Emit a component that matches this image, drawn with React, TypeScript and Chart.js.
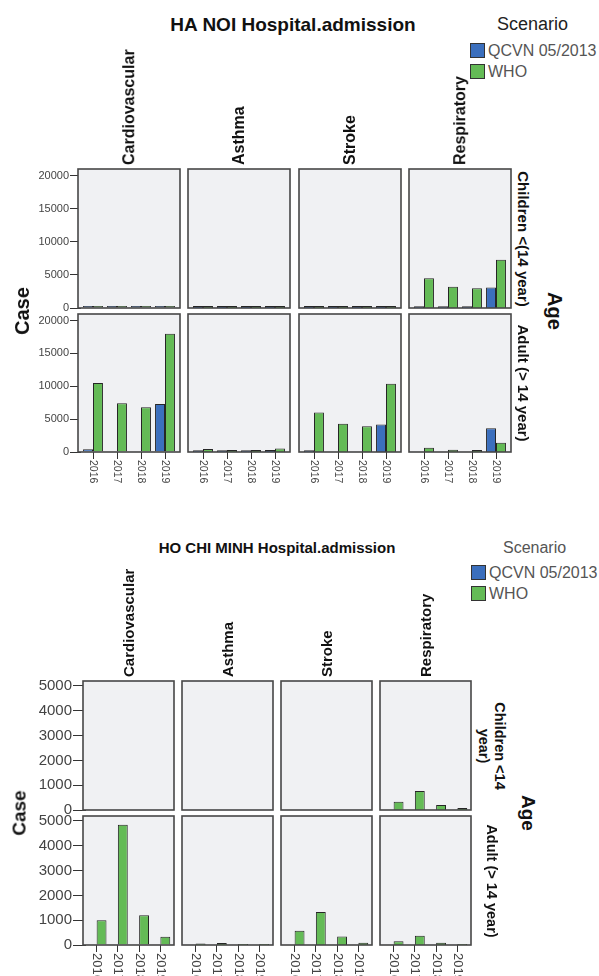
import React, { useEffect, useRef } from 'react';
import { Chart, registerables } from 'chart.js';

Chart.register(...registerables);

// ---------- data ----------
const years = ['2016', '2017', '2018', '2019'];
const diseases = ['Cardiovascular', 'Asthma', 'Stroke', 'Respiratory'];
const scenarios = ['QCVN 05/2013', 'WHO'];
const legendTitle = 'Scenario';
const hanoiTitle = 'HA NOI Hospital.admission';
const hcmTitle = 'HO CHI MINH Hospital.admission';
const hanoiAgeLabels = [['Children <(14 year)'], ['Adult (> 14 year)']];
const hcmAgeLabels = [['Children <14', 'year)'], ['Adult (> 14 year)']];
const yTitle = 'Case';
const facetTitle = 'Age';
const hanoiYTicks = [0, 5000, 10000, 15000, 20000];
const hcmYTicks = [0, 1000, 2000, 3000, 4000, 5000];
const hanoiYMax = 21000;
const hcmYMax = 5200;

// rows: Cardiovascular, Asthma, Stroke, Respiratory ; columns: 2016..2019
const hnChildrenQCVN = [
  [300, 300, 300, 300],
  [300, 300, 300, 300],
  [300, 300, 300, 300],
  [250, 250, 250, 3100],
];
const hnChildrenWHO = [
  [300, 300, 300, 300],
  [300, 300, 300, 300],
  [300, 300, 300, 300],
  [4500, 3200, 3000, 7300],
];
const hnAdultQCVN = [
  [400, 0, 0, 7300],
  [250, 250, 250, 300],
  [250, 0, 0, 4200],
  [0, 0, 0, 3600],
];
const hnAdultWHO = [
  [10500, 7400, 6800, 18000],
  [450, 300, 300, 550],
  [6000, 4300, 3900, 10400],
  [650, 350, 300, 1400],
];
const hcmChildrenQCVN = [
  [0, 0, 0, 0],
  [0, 0, 0, 0],
  [0, 0, 0, 0],
  [0, 0, 0, 0],
];
const hcmChildrenWHO = [
  [0, 0, 0, 0],
  [0, 0, 0, 0],
  [0, 0, 0, 0],
  [330, 770, 200, 80],
];
const hcmAdultQCVN = [
  [0, 0, 0, 0],
  [0, 0, 0, 0],
  [0, 0, 0, 0],
  [0, 0, 0, 0],
];
const hcmAdultWHO = [
  [1000, 4850, 1200, 330],
  [60, 80, 40, 40],
  [570, 1330, 340, 90],
  [150, 370, 90, 40],
];

// ---------- styles ----------
const FONT = '"Liberation Sans", Arial, Helvetica, sans-serif';
const BLUE = '#3b6fbd';
const GREEN = '#64bb56';
const BAR_BORDER = '#262626';
const PANEL_BG = '#f0f1f3';
const FRAME = '#474747';
const TICK_COLOR = '#444';

type Spec = {
  lefts: number[];
  w: number;
  inset: number;
  rowTops: number[];
  rowHs: number[];
  yMax: number;
  yTicks: number[];
  yFont: number;
  yTickLen: number;
  xFont: number;
  xTickLen: number;
  catPct: number;
  xAxisH: number;
  qcvn: number[][][];
  who: number[][][];
};

const hanoiSpec: Spec = {
  lefts: [78, 188, 299, 409],
  w: 102,
  inset: 3,
  rowTops: [169, 314],
  rowHs: [139, 138],
  yMax: hanoiYMax,
  yTicks: hanoiYTicks,
  yFont: 11,
  yTickLen: 11,
  xFont: 10.5,
  xTickLen: 7,
  catPct: 0.83,
  xAxisH: 40,
  qcvn: [hnChildrenQCVN, hnAdultQCVN],
  who: [hnChildrenWHO, hnAdultWHO],
};

const hcmSpec: Spec = {
  lefts: [83, 182, 281, 380],
  w: 91,
  inset: 3,
  rowTops: [681, 816],
  rowHs: [129, 129],
  yMax: hcmYMax,
  yTicks: hcmYTicks,
  yFont: 15,
  yTickLen: 13,
  xFont: 13,
  xTickLen: 7,
  catPct: 0.93,
  xAxisH: 40,
  qcvn: [hcmChildrenQCVN, hcmAdultQCVN],
  who: [hcmChildrenWHO, hcmAdultWHO],
};

const panelPlugin = {
  id: 'panelFrame',
  beforeDatasetsDraw(chart: any, _a: any, o: any) {
    const { ctx, chartArea: a } = chart;
    ctx.save();
    ctx.fillStyle = o.bg;
    ctx.fillRect(a.left - o.inset, a.top, a.right - a.left + 2 * o.inset, a.bottom - a.top);
    ctx.restore();
  },
  afterDraw(chart: any, _a: any, o: any) {
    const { ctx, chartArea: a } = chart;
    ctx.save();
    ctx.strokeStyle = o.frameColor;
    ctx.lineWidth = 1.6;
    ctx.strokeRect(a.left - o.inset, a.top, a.right - a.left + 2 * o.inset, a.bottom - a.top);
    if (o.xLabels) {
      const xs = chart.scales.x;
      ctx.fillStyle = TICK_COLOR;
      ctx.font = `${o.xFont}px ${FONT}`;
      ctx.textAlign = 'left';
      ctx.textBaseline = 'middle';
      xs.ticks.forEach((t: any, i: number) => {
        const x = xs.getPixelForTick(i);
        ctx.save();
        ctx.translate(x, a.bottom + o.xOffset);
        ctx.rotate(Math.PI / 2);
        ctx.fillText(String(xs.getLabelForValue(t.value)), 0, 0);
        ctx.restore();
      });
    }
    ctx.restore();
  },
};

function Facet({ spec, r, c }: { spec: Spec; r: number; c: number }) {
  const ref = useRef<HTMLCanvasElement>(null);
  const first = c === 0;
  const bottom = r === 1;
  const left = first ? 0 : spec.lefts[c] - 4;
  const top = spec.rowTops[r] - 10;
  const width = first ? spec.lefts[0] + spec.w + 4 : spec.w + 8;
  const height = spec.rowHs[r] + 20 + (bottom ? spec.xAxisH : 0);

  useEffect(() => {
    const chart = new Chart(ref.current as HTMLCanvasElement, {
      type: 'bar',
      data: {
        labels: years,
        datasets: [
          {
            label: scenarios[0],
            data: spec.qcvn[r][c],
            backgroundColor: BLUE,
            borderColor: BAR_BORDER,
            borderWidth: 1,
            barPercentage: 1,
            categoryPercentage: spec.catPct,
          },
          {
            label: scenarios[1],
            data: spec.who[r][c],
            backgroundColor: GREEN,
            borderColor: BAR_BORDER,
            borderWidth: 1,
            barPercentage: 1,
            categoryPercentage: spec.catPct,
          },
        ],
      },
      options: {
        animation: false,
        responsive: false,
        maintainAspectRatio: false,
        devicePixelRatio: 1,
        events: [],
        layout: {
          padding: {
            left: first ? 0 : 4 + spec.inset,
            right: 4 + spec.inset,
            top: 10,
            bottom: 10,
          },
        },
        plugins: {
          legend: { display: false },
          tooltip: { enabled: false },
          panelFrame: {
            bg: PANEL_BG,
            frameColor: FRAME,
            inset: spec.inset,
            xLabels: bottom,
            xFont: spec.xFont,
            xOffset: spec.xTickLen + 1,
          },
        } as any,
        scales: {
          x: {
            type: 'category',
            display: bottom,
            offset: true,
            afterFit: (s: any) => {
              s.height = bottom ? spec.xAxisH : 0;
            },
            grid: {
              drawOnChartArea: false,
              drawTicks: true,
              tickLength: spec.xTickLen,
              color: '#333',
              offset: false,
            },
            border: { display: false },
            ticks: { display: false },
          },
          y: {
            display: first,
            min: 0,
            max: spec.yMax,
            afterBuildTicks: (s: any) => {
              s.ticks = spec.yTicks.map((v) => ({ value: v }));
            },
            afterFit: (s: any) => {
              s.width = first ? spec.lefts[0] + spec.inset : 0;
            },
            grid: {
              drawOnChartArea: false,
              drawTicks: true,
              tickLength: spec.yTickLen,
              color: '#333',
            },
            border: { display: false },
            ticks: {
              color: TICK_COLOR,
              padding: 1,
              autoSkip: false,
              font: { family: FONT, size: spec.yFont },
              callback: (v: any) => String(v),
            },
          },
        },
      } as any,
      plugins: [panelPlugin as any],
    });
    return () => chart.destroy();
  }, []);

  return (
    <canvas
      ref={ref}
      width={width}
      height={height}
      style={{ position: 'absolute', left, top, width, height }}
    />
  );
}

const abs: React.CSSProperties = { position: 'absolute', whiteSpace: 'nowrap', fontFamily: FONT };

function CenterText({ x, y, size, bold, color, rot, lines, lh }: any) {
  return (
    <div
      style={{
        ...abs,
        left: x,
        top: y,
        fontSize: size,
        fontWeight: bold ? 'bold' : 'normal',
        color: color || '#111',
        lineHeight: `${lh || size * 1.1}px`,
        textAlign: 'center',
        transform: `translate(-50%, -50%) rotate(${rot || 0}deg)`,
      }}
    >
      {lines.map((l: string, i: number) => (
        <div key={i}>{l}</div>
      ))}
    </div>
  );
}

function HeaderText({ x, bottom, size, text }: any) {
  return (
    <div
      style={{
        ...abs,
        left: x,
        top: bottom,
        fontSize: size,
        fontWeight: 'bold',
        color: '#111',
        lineHeight: `${size * 1.1}px`,
        transformOrigin: '0 0',
        transform: 'rotate(-90deg) translate(0, -50%)',
      }}
    >
      {text}
    </div>
  );
}

function LeftText({ x, y, size, color, text }: any) {
  return (
    <div
      style={{
        ...abs,
        left: x,
        top: y,
        fontSize: size,
        color,
        lineHeight: `${size * 1.1}px`,
        transform: 'translate(0, -50%)',
      }}
    >
      {text}
    </div>
  );
}

function Swatch({ x, y, color }: any) {
  return (
    <div
      style={{
        position: 'absolute',
        left: x,
        top: y,
        width: 13,
        height: 13,
        background: color,
        border: '1px solid #333',
      }}
    />
  );
}

function City({ spec, title, titleX, titleY, titleSize, scenX, scenY, scenSize, scenColor, legX, legY, legGap, headerBottom, headerSize, ageLabels, ageX, ageSize, ageLh, caseX, bigX, bigSize }: any) {
  const facets = [];
  for (let r = 0; r < 2; r++) for (let c = 0; c < 4; c++) facets.push(<Facet key={`${r}-${c}`} spec={spec} r={r} c={c} />);
  const midY = (spec.rowTops[0] + spec.rowTops[1] + spec.rowHs[1]) / 2;
  return (
    <>
      {facets}
      <CenterText x={titleX} y={titleY} size={titleSize} bold lines={[title]} />
      <LeftText x={scenX} y={scenY} size={scenSize} color={scenColor} text={legendTitle} />
      <Swatch x={legX} y={legY} color={BLUE} />
      <LeftText x={legX + 18} y={legY + 8} size={16} color="#555" text={scenarios[0]} />
      <Swatch x={legX} y={legY + legGap} color={GREEN} />
      <LeftText x={legX + 18} y={legY + legGap + 8} size={16} color="#555" text={scenarios[1]} />
      {diseases.map((d, i) => (
        <HeaderText key={d} x={spec.lefts[i] + spec.w / 2} bottom={headerBottom} size={headerSize} text={d} />
      ))}
      {ageLabels.map((lines: string[], r: number) => (
        <CenterText
          key={r}
          x={ageX}
          y={spec.rowTops[r] + spec.rowHs[r] / 2}
          size={ageSize}
          lh={ageLh}
          bold
          rot={90}
          lines={lines}
        />
      ))}
      <CenterText x={caseX} y={midY} size={bigSize} bold rot={-90} lines={[yTitle]} />
      <CenterText x={bigX} y={midY} size={bigSize} bold rot={90} lines={[facetTitle]} />
    </>
  );
}

export default function App() {
  return (
    <div
      style={{
        position: 'fixed',
        left: 0,
        top: 0,
        width: 599,
        height: 976,
        overflow: 'hidden',
        background: '#fff',
      }}
    >
      <City
        spec={hanoiSpec}
        title={hanoiTitle}
        titleX={293}
        titleY={25}
        titleSize={19}
        scenX={497}
        scenY={25}
        scenSize={18}
        scenColor="#222"
        legX={470}
        legY={43}
        legGap={21}
        headerBottom={165}
        headerSize={16}
        ageLabels={hanoiAgeLabels}
        ageX={523}
        ageSize={15}
        ageLh={16}
        caseX={22}
        bigX={555}
        bigSize={20}
      />
      <City
        spec={hcmSpec}
        title={hcmTitle}
        titleX={277}
        titleY={548}
        titleSize={15}
        scenX={503}
        scenY={548}
        scenSize={16}
        scenColor="#555"
        legX={471}
        legY={565}
        legGap={21}
        headerBottom={677}
        headerSize={15}
        ageLabels={hcmAgeLabels}
        ageX={491}
        ageSize={14.5}
        ageLh={15.5}
        caseX={20}
        bigX={528}
        bigSize={19}
      />
    </div>
  );
}
